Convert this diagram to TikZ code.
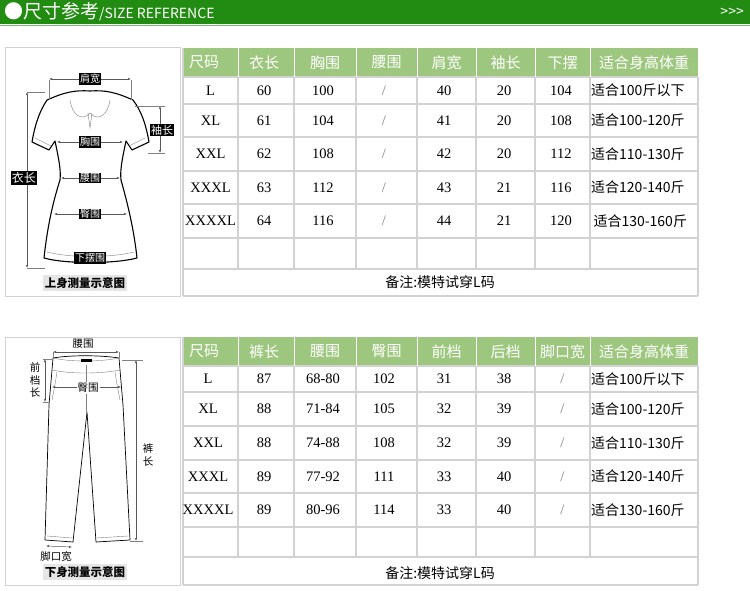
\documentclass[tikz,border=0pt]{standalone}
\usepackage{fontspec}
\setmainfont{Liberation Serif}
\newfontfamily\cjk{Noto Sans CJK SC}
\usetikzlibrary{arrows.meta}
\definecolor{band}{HTML}{228B12}
\definecolor{hdr}{HTML}{9DC77E}
\definecolor{grid}{HTML}{D2D2D2}
\tikzset{
  cell/.style={font=\fontsize{14.5}{16}\selectfont, inner sep=0pt},
  ccell/.style={font=\cjk\fontsize{14}{16}\selectfont, inner sep=0pt},
  hcell/.style={font=\cjk\fontsize{15}{17}\selectfont, text=white, inner sep=0pt},
  tag/.style={fill=black, text=white, font=\cjk\fontsize{10}{11}\selectfont, inner sep=1pt},
  tagv/.style={font=\cjk\fontsize{10.5}{12.5}\selectfont, inner sep=1pt, fill=white, align=center},
  plab/.style={font=\cjk\fontsize{10.5}{12}\selectfont, inner sep=1pt},
  meas/.style={gray!70!black, line width=0.5pt, {Latex[length=3pt]}-{Latex[length=3pt]}},
  garment/.style={black, line width=1.1pt, line join=round},
  thin/.style={gray, line width=0.4pt},
  caption/.style={fill=gray!20, font=\cjk\bfseries\fontsize{11.5}{13}\selectfont, inner sep=2pt},
}
\begin{document}
\begin{tikzpicture}[x=1pt,y=-1pt]
\useasboundingbox (0,0) rectangle (750,591);
\fill[white] (0,0) rectangle (750,591);
% header band
\fill[band] (0,0) rectangle (750,24);
\draw[band!60, line width=0.6pt] (0,25.5) -- (750,25.5);
\node[anchor=west, text=white, font=\cjk\fontsize{19}{20}\selectfont, inner sep=0pt] (title) at (4,12) {●尺寸参考\fontsize{14}{15}\selectfont/SIZE REFERENCE};
\node[anchor=east, text=white, font=\cjk\fontsize{14}{15}\selectfont, inner sep=0pt] (more) at (744,12) {>>>};

% ---------- TABLE 1 ----------
\fill[hdr] (183,48) rectangle (698,77);
\draw[grid, line width=1pt] (5,48) rectangle (180,296);
\foreach \y in {77,104,137,171,204,238,269} \draw[grid, line width=1.2pt] (183,\y) -- (698,\y);
\draw[grid, line width=1.2pt] (183,296) -- (698,296);
\foreach \x in {238,294,356,417,476,535,590} {
  \draw[white, line width=1pt] (\x,48) -- (\x,77);
  \draw[grid, line width=1.2pt] (\x,77) -- (\x,269);}
\draw[grid, line width=1.2pt] (183,48) -- (183,296) (698,77) -- (698,296);
\foreach \t [count=\i] in {尺码,衣长,胸围,腰围,肩宽,袖长,下摆,适合身高体重} {
  \pgfmathsetmacro\cx{{204,264,325,386.5,446.5,505.5,562.5,644}[\i-1]}
  \node[hcell] (ha\i) at (\cx,62.5) {\t};}
\foreach \s/\a/\b/\c/\d/\e/\f/\g [count=\r] in {
  L/60/100/{/}/40/20/104/适合100斤以下,
  XL/61/104/{/}/41/20/108/适合100-120斤,
  XXL/62/108/{/}/42/20/112/适合110-130斤,
  XXXL/63/112/{/}/43/21/116/适合120-140斤,
  XXXXL/64/116/{/}/44/21/120/{\,适合130-160斤}} {
  \pgfmathsetmacro\cy{{90.5,120.5,154,187.5,221}[\r-1]}
  \node[cell] (a\r s) at (210.5,\cy) {\s};
  \node[cell] (a\r a) at (264,\cy) {\a};
  \node[cell] (a\r b) at (323,\cy) {\b};
  \node[cell, text=gray] (a\r c) at (384,\cy) {\c};
  \node[cell] (a\r d) at (444,\cy) {\d};
  \node[cell] (a\r e) at (504,\cy) {\e};
  \node[cell] (a\r f) at (561,\cy) {\f};
  \node[ccell, anchor=west] (a\r g) at (591,\cy) {\g};}
\node[ccell] (notea) at (440,282.5) {备注:模特试穿L码};

% ---------- TABLE 2 ----------
\fill[hdr] (183,337) rectangle (698,366);
\draw[grid, line width=1pt] (5,337) rectangle (180,585);
\foreach \y in {366,392,426,460,493,527,557} \draw[grid, line width=1.2pt] (183,\y) -- (698,\y);
\draw[grid, line width=1.2pt] (183,585) -- (698,585);
\foreach \x in {238,294,356,417,476,535,590} {
  \draw[white, line width=1pt] (\x,337) -- (\x,366);
  \draw[grid, line width=1.2pt] (\x,366) -- (\x,557);}
\draw[grid, line width=1.2pt] (183,337) -- (183,585) (698,366) -- (698,585);
\foreach \t [count=\i] in {尺码,裤长,腰围,臀围,前档,后档,脚口宽,适合身高体重} {
  \pgfmathsetmacro\cx{{204,264,325,386.5,446.5,505.5,562.5,644}[\i-1]}
  \node[hcell] (hb\i) at (\cx,351.5) {\t};}
\foreach \s/\a/\b/\c/\d/\e/\f/\g [count=\r] in {
  L/87/68-80/102/31/38/{/}/适合100斤以下,
  XL/88/71-84/105/32/39/{/}/适合100-120斤,
  XXL/88/74-88/108/32/39/{/}/适合110-130斤,
  XXXL/89/77-92/111/33/40/{/}/适合120-140斤,
  XXXXL/89/80-96/114/33/40/{/}/适合130-160斤} {
  \pgfmathsetmacro\cy{{379,409,443,476.5,510}[\r-1]}
  \node[cell] (b\r s) at (208,\cy) {\s};
  \node[cell] (b\r a) at (264,\cy) {\a};
  \node[cell] (b\r b) at (323,\cy) {\b};
  \node[cell] (b\r c) at (384,\cy) {\c};
  \node[cell] (b\r d) at (444,\cy) {\d};
  \node[cell] (b\r e) at (504,\cy) {\e};
  \node[cell, text=gray] (b\r f) at (562.5,\cy) {\f};
  \node[ccell, anchor=west] (b\r g) at (591,\cy) {\g};}
\node[ccell] (noteb) at (440,573) {备注:模特试穿L码};

% ---------- SHIRT ----------
\draw[garment, fill=white] (47,100) .. controls (65,92) and (75,90) .. (90,91)
  .. controls (105,90) and (115,92) .. (133,100)
  .. controls (142,112) and (146,125) .. (149,142)
  -- (132,150) -- (126,141)
  .. controls (122,160) and (120,170) .. (121,180)
  .. controls (128,205) and (134,230) .. (137,258)
  .. controls (115,264) and (65,264) .. (44,258)
  .. controls (47,230) and (52,205) .. (60,180)
  .. controls (61,170) and (59,160) .. (55,141)
  -- (49,150) -- (32,142)
  .. controls (35,125) and (39,112) .. (47,100) -- cycle;
\draw[thin] (70,100) .. controls (72,115) and (82,122) .. (90,113)
  .. controls (98,122) and (108,115) .. (110,100);
\draw[thin] (88,113) -- (90,128) -- (92,113);
\draw[thin] (35,138) -- (51,146) (145,138) -- (129,146) (47,252) .. controls (70,258) and (110,258) .. (134,252);
\draw[thin] (49,100) -- (49,80) (131,100) -- (131,80);
\draw[meas] (49,79) -- (131,79);
\node[tag] (jk) at (90,79) {肩宽};
\draw[meas] (27,92) -- (27,268);
\draw[thin] (27,92) -- (45,92) (27,268) -- (45,268);
\node[tag, font=\cjk\fontsize{12}{13}\selectfont] (yc) at (24,178) {衣长};
\draw[meas] (160,106) -- (160,153);
\draw[thin] (135,106) -- (165,106) (148,153) -- (165,153);
\node[tag, font=\cjk\fontsize{11}{12}\selectfont] (xc) at (162,130) {袖长};
\draw[meas] (57,142) -- (123,142);
\node[tag] (xw) at (90,142) {胸围};
\draw[meas] (61,178) -- (120,178);
\node[tag] (yw) at (90,178) {腰围};
\draw[meas] (54,214) -- (127,214);
\node[tag] (tw) at (90,214) {臀围};
\node[tag] (xb) at (90,258) {下摆围};
\node[caption] (cap1) at (85,283) {上身测量示意图};

% ---------- PANTS ----------
\draw[garment, line width=0.7pt, fill=white] (53,358) -- (52,370) -- (49,405) -- (45,540) -- (73,542)
  -- (87,412) -- (96,542) -- (130,540) -- (123,405) -- (120,370) -- (119,358)
  .. controls (100,355) and (70,355) .. (53,358) -- cycle;
\draw[thin] (52,370) .. controls (70,374) and (100,374) .. (120,370);
\draw[thin] (53,358) .. controls (70,362) and (100,362) .. (119,358);
\draw[thin] (86,365) -- (86,412);
\draw[thin] (47,536) -- (72,538) (97,538) -- (128,536);
\draw[thin] (57,372) .. controls (55,385) and (53,395) .. (52,400) (115,372) .. controls (117,385) and (119,395) .. (120,400);
\fill[black] (81,359) rectangle (92,362);
\draw[meas] (53,352) -- (119,352);
\draw[thin] (53,352) -- (53,358) (119,352) -- (119,358);
\node[plab] (pw) at (83,344) {腰围};
\draw[meas] (45,359) -- (45,402);
\draw[thin] (43,359) -- (53,359) (43,402) -- (50,402);
\node[tagv] (qd) at (35,380) {前\\档\\长};
\draw[meas] (52,387) -- (121,387);
\node[plab, fill=white] (hw) at (88,388) {臀围};
\draw[meas] (136,360) -- (136,541);
\draw[thin] (122,360) -- (143,360) (130,541) -- (143,541);
\node[tagv] (kc) at (148,455) {裤\\长};
\draw[meas] (46,546) -- (72,547);
\node[plab] (jkk) at (56,557) {脚口宽};
\node[caption] (cap2) at (85,572) {下身测量示意图};
\end{tikzpicture}
\end{document}
